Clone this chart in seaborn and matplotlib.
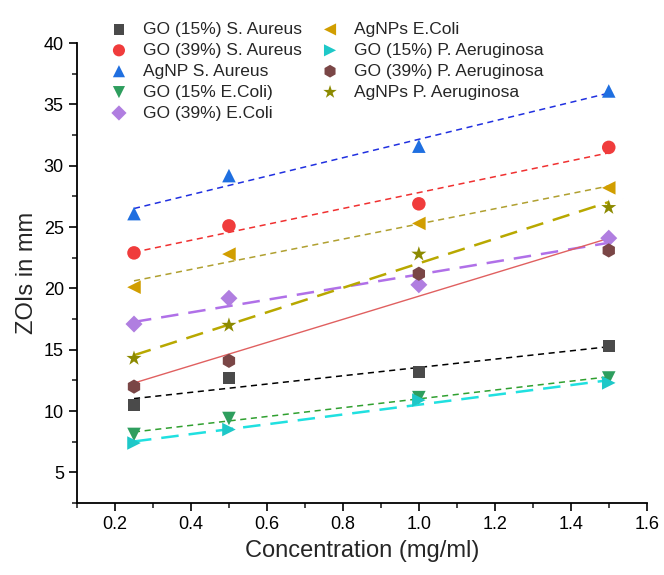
import pandas as pd
import matplotlib.pyplot as plt
from matplotlib.ticker import MultipleLocator
import seaborn as sns

# Concentrations (mg/ml)
conc = [0.25, 0.5, 1.0, 1.5]

# ZOI values (mm) per sample
go15_sa = [10.5, 12.7, 13.2, 15.3]
go39_sa = [22.9, 25.1, 26.9, 31.5]
agnp_sa = [26.1, 29.2, 31.6, 36.1]
go15_ec = [8.1, 9.4, 11.1, 12.7]
go39_ec = [17.1, 19.2, 20.3, 24.1]
agnp_ec = [20.1, 22.8, 25.3, 28.2]
go15_pa = [7.4, 8.5, 10.9, 12.3]
go39_pa = [12.0, 14.1, 21.2, 23.1]
agnp_pa = [14.3, 17.0, 22.8, 26.6]

labels = ['GO (15%) S. Aureus', 'GO (39%) S. Aureus', 'AgNP S. Aureus',
          'GO (15% E.Coli)', 'GO (39%) E.Coli', 'AgNPs E.Coli',
          'GO (15%) P. Aeruginosa', 'GO (39%) P. Aeruginosa', 'AgNPs P. Aeruginosa']
values = [go15_sa, go39_sa, agnp_sa, go15_ec, go39_ec, agnp_ec, go15_pa, go39_pa, agnp_pa]

markers = ['s', 'o', '^', 'v', 'D', '<', '>', 'h', '*']
colors = ['#4a4a4a', '#f03c3c', '#1f6fe0', '#2e9e5e', '#b07ee0', '#d19e00', '#1ec8c8', '#7a4646', '#8c8a00']
sizes = [75, 95, 95, 95, 75, 95, 95, 105, 130]
# fit line styles
line_colors = ['#000000', '#f03030', '#2030e0', '#30a030', '#b070e8', '#b0a030', '#20e0e0', '#e06060', '#b8a800']
line_styles = [(0, (4, 3)), (0, (4, 3)), (0, (4, 3)), (0, (4, 3)), (0, (7, 4)),
               (0, (4, 3)), (0, (7, 4)), '-', (0, (7, 4))]
line_widths = [1.1, 1.1, 1.1, 1.1, 1.8, 1.1, 1.8, 1.0, 1.8]

sns.set_style('ticks')
plt.rcParams['font.family'] = ['Liberation Sans', 'DejaVu Sans']

fig = plt.figure(figsize=(6.64, 5.75), dpi=100)
ax = fig.add_axes([0.116, 0.125, 0.858, 0.8])

handles = []
for lab, v, m, c, s, lc, ls, lw in zip(labels, values, markers, colors, sizes,
                                       line_colors, line_styles, line_widths):
    df = pd.DataFrame({'conc': conc, 'zoi': v})
    sns.regplot(data=df, x='conc', y='zoi', ax=ax, ci=None, scatter=False,
                line_kws={'color': lc, 'linestyle': ls, 'linewidth': lw})
    sns.scatterplot(data=df, x='conc', y='zoi', ax=ax, marker=m, color=c, s=s,
                    edgecolor='none', zorder=3)
    h = ax.scatter([], [], marker=m, color=c, s=s * 0.8, edgecolor='none')
    handles.append(h)

ax.set_xlim(0.1, 1.6)
ax.set_ylim(2.5, 40)
ax.xaxis.set_major_locator(MultipleLocator(0.2))
ax.xaxis.set_minor_locator(MultipleLocator(0.1))
ax.yaxis.set_major_locator(MultipleLocator(5))
ax.yaxis.set_minor_locator(MultipleLocator(2.5))
ax.set_xticks([0.2, 0.4, 0.6, 0.8, 1.0, 1.2, 1.4, 1.6])
ax.set_yticks([5, 10, 15, 20, 25, 30, 35, 40])
ax.tick_params(which='major', direction='out', length=6, width=1.2, labelsize=13, colors='black')
ax.tick_params(which='minor', direction='out', length=3.5, width=1.2)
for sp in ['left', 'bottom']:
    ax.spines[sp].set_linewidth(1.3)
    ax.spines[sp].set_color('black')
sns.despine(ax=ax)

ax.set_xlabel('Concentration (mg/ml)', fontsize=17, labelpad=5)
ax.set_ylabel('ZOIs in mm', fontsize=17, labelpad=4)

fig.legend(handles, labels, loc='upper left', bbox_to_anchor=(0.153, 0.962), ncol=2,
           frameon=False, fontsize=12.5, handletextpad=0.4, columnspacing=0.6,
           labelspacing=0.33, borderaxespad=0, borderpad=0)

fig.savefig('out.png', dpi=100)
